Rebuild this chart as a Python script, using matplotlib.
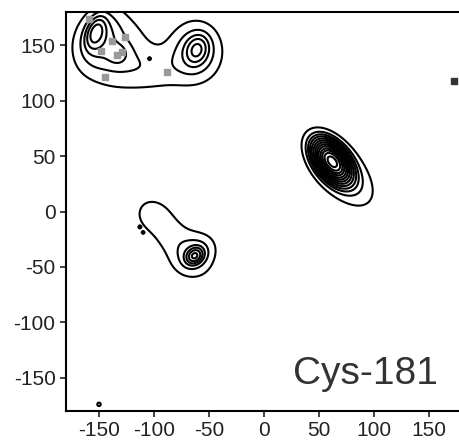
import numpy as np
import matplotlib.pyplot as plt

plt.rcParams['font.family'] = ['Liberation Sans', 'DejaVu Sans']
plt.rcParams['axes.unicode_minus'] = False

# Gaussian components of the phi/psi density: centre, widths, rotation (deg), height
comp_phi = [-140, -62, -100, -153, -150, -133, -62, -61,
            -82, -102, -62, -63, 70, 62, -104, -150, -113, -110]
comp_psi = [148, 145, 128, 162, 158, 142, 145, 146,
            -24, -3, -38, -40, 36, 45, 138, -174, -14, -19]
comp_sx = [22, 15, 25, 5, 10, 6, 15, 6,
           30, 10, 10, 4, 25, 12, 0.8, 2.0, 0.8, 0.8]
comp_sy = [22, 17, 14, 9, 16, 6, 17, 8,
           13, 9, 13, 5, 13, 7, 0.8, 2.0, 0.8, 0.8]
comp_rot = [0, 0, 0, -20, -20, 0, 0, -20,
            -50, 0, -50, -50, -48, -52, 0, 0, 0, 0]
comp_amp = [2.6, 1.2, 1.5, 5.0, 2.5, 2.0, 2.3, 4.5,
            1.6, 0.8, 2.5, 7.0, 3.0, 45.0, 1.3, 1.4, 1.3, 1.3]

contour_levels = [1, 2.2, 3.5, 5, 7, 9.5, 12.5, 16, 20, 25, 30, 36, 43]

# individual residues drawn as squares
gray_phi = [-159, -138, -126, -148, -134, -129, -145, -88]
gray_psi = [174, 154, 157, 145, 141, 144, 121, 126]
dark_phi = [173]
dark_psi = [118]

phi = np.linspace(-180, 180, 361)
psi = np.linspace(-180, 180, 361)
PHI, PSI = np.meshgrid(phi, psi)
dens = np.zeros_like(PHI)
for x0, y0, sx, sy, rot, amp in zip(comp_phi, comp_psi, comp_sx, comp_sy, comp_rot, comp_amp):
    t = np.deg2rad(rot)
    dx, dy = PHI - x0, PSI - y0
    u = dx * np.cos(t) + dy * np.sin(t)
    v = -dx * np.sin(t) + dy * np.cos(t)
    dens += amp * np.exp(-0.5 * ((u / sx) ** 2 + (v / sy) ** 2))

fig = plt.figure(figsize=(4.59, 4.42), dpi=100)
ax = fig.add_axes([66 / 459, 1 - 411 / 442, 396 / 459, 399 / 442])

ax.contour(PHI, PSI, dens, levels=contour_levels, colors='black', linewidths=1.5)
ax.scatter(gray_phi, gray_psi, marker='s', s=22, color='#999999', zorder=3)
ax.scatter(dark_phi, dark_psi, marker='s', s=22, color='#333333', zorder=3)

ax.set_xlim(-180, 180)
ax.set_ylim(-180, 180)
ax.set_xticks([-150, -100, -50, 0, 50, 100, 150])
ax.set_yticks([-150, -100, -50, 0, 50, 100, 150])
ax.tick_params(labelsize=15, length=4, width=1.2, colors='#222222')
for side in ['left', 'bottom', 'top']:
    ax.spines[side].set_linewidth(1.5)
ax.spines['right'].set_visible(False)

ax.text(158, -156, 'Cys-181', fontsize=28, color='#333333', ha='right', va='baseline')

fig.savefig('out.png', dpi=100)
